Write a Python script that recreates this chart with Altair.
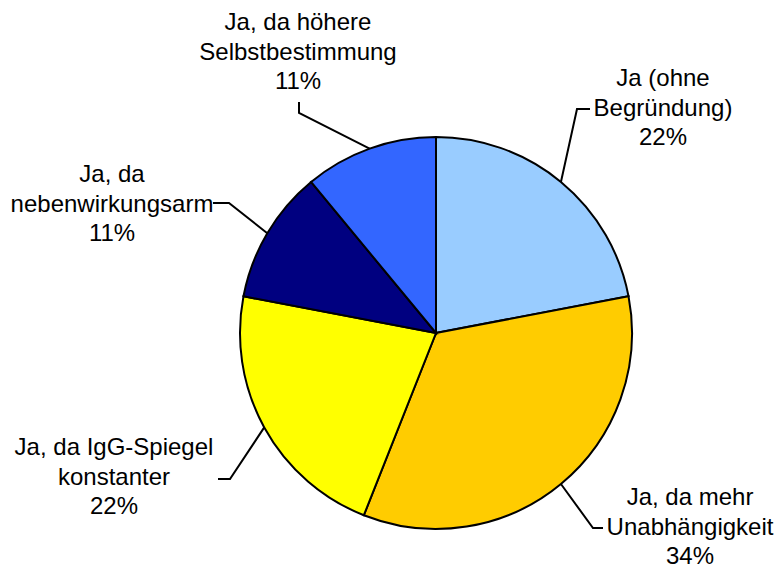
import altair as alt
import pandas as pd
import numpy as np

# ---- data ----
categories = [
    "Ja (ohne\nBegründung)",
    "Ja, da mehr\nUnabhängigkeit",
    "Ja, da IgG-Spiegel\nkonstanter",
    "Ja, da\nnebenwirkungsarm",
    "Ja, da höhere\nSelbstbestimmung",
]
percent = [22, 34, 22, 11, 11]

# ---- style / layout ----
colors = ["#99CCFF", "#FFCC00", "#FFFF00", "#000080", "#3366FF"]
R = 196                # pie radius (px)
W, H = 768, 560        # chart size
CX, CY = 428, 325      # pie centre in chart pixels
# label anchors (centre x, first baseline y) relative to pie centre, y downward
label_pos = [(227, -247), (254, 172), (-322, 122), (-324, -151), (-138, -303)]
leader_elbow = [(141, -224), (157, 195), (-206, 146), (-207, -130), (-137, -220)]
leader_end = [(154, -224), (167, 195), (-218, 146), (-223, -130), (-137, -231)]

pie_df = pd.DataFrame({"cat": categories, "value": percent, "idx": range(len(percent))})

# leader lines: start on pie edge at slice mid-angle
cum = np.cumsum(percent)
rows = []
for i, c in enumerate(categories):
    a = (cum[i] - percent[i] / 2) / sum(percent) * 2 * np.pi
    sx, sy = R * np.sin(a), -R * np.cos(a)
    pts = [(sx, sy), leader_elbow[i], leader_end[i]]
    for k, (px, py) in enumerate(pts):
        rows.append({"cat": c, "k": k, "x": float(px), "y": float(py)})
line_df = pd.DataFrame(rows)

text_df = pd.DataFrame({
    "cat": categories,
    "label": [f"{c}\n{p}%" for c, p in zip(categories, percent)],
    "x": [p[0] for p in label_pos],
    "y": [p[1] for p in label_pos],
})

xs = alt.Scale(domain=[-CX, W - CX], zero=False, nice=False)
ys = alt.Scale(domain=[-CY, H - CY], zero=False, nice=False, reverse=True)

pie = alt.Chart(pie_df).mark_arc(outerRadius=R, stroke="black", strokeWidth=2).encode(
    theta=alt.Theta("value:Q", stack=True),
    color=alt.Color("cat:N", scale=alt.Scale(domain=categories, range=colors), legend=None),
    order=alt.Order("idx:Q"),
    x=alt.value(CX),
    y=alt.value(CY),
)

lines = alt.Chart(line_df).mark_line(color="black", strokeWidth=2).encode(
    x=alt.X("x:Q", scale=xs, axis=None),
    y=alt.Y("y:Q", scale=ys, axis=None),
    detail="cat:N",
    order="k:Q",
)

texts = alt.Chart(text_df).mark_text(
    font="Liberation Sans", fontSize=24, lineBreak="\n", lineHeight=29.5,
    baseline="alphabetic", align="center", color="black",
).encode(
    x=alt.X("x:Q", scale=xs, axis=None),
    y=alt.Y("y:Q", scale=ys, axis=None),
    text="label:N",
)

chart = alt.layer(pie, lines, texts).properties(
    width=W, height=H, padding=0, autosize=alt.AutoSizeParams(type="none")
).configure_view(stroke=None)

chart.save("out.html", embed_options={"renderer": "svg", "actions": False})
